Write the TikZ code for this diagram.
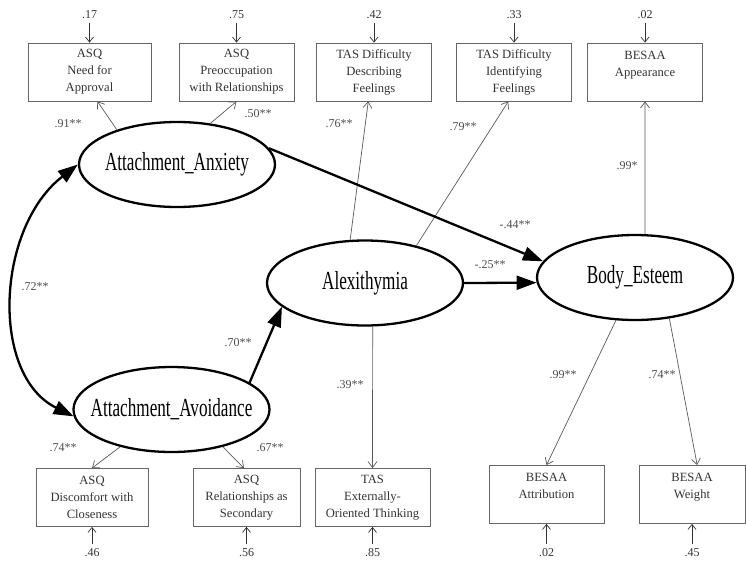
\documentclass[tikz,border=0pt]{standalone}
\usepackage{fontspec}
\setmainfont{Liberation Serif}
\usetikzlibrary{shapes.geometric,arrows.meta}

\newcommand\latname[1]{\makebox[0pt]{\scalebox{0.66}[1]{#1}}}

\begin{document}
\begin{tikzpicture}[x=1pt,y=-1pt,
					latent/.style={ellipse,draw,line width=2.3pt,minimum width=196pt,
					  minimum height=85pt,inner sep=0pt,font=\fontsize{26}{26}\selectfont},
					obs/.style={rectangle,draw=black!60,line width=0.8pt,minimum width=115pt,
					  minimum height=58pt,inner sep=2pt,align=center,text=black!80,
					  font=\fontsize{12.6}{17}\selectfont},
					err/.style={inner sep=1pt,text=black!80,font=\fontsize{12}{14}\selectfont},
					coef/.style={inner sep=0pt,text=black!70,font=\fontsize{12}{14}\selectfont},
					load/.style={draw=black!65,line width=0.7pt,-{Straight Barb[length=6pt,width=9pt]}},
					regr/.style={draw,line width=2.3pt,-{Triangle[length=20pt,width=14pt]}},
					cov/.style={draw,line width=2.3pt,{Triangle[length=20pt,width=14pt]}-{Triangle[length=20pt,width=14pt]}},
					erra/.style={draw=black!80,line width=0.7pt,-{Straight Barb[length=5pt,width=8pt]}}]

  \useasboundingbox (0,0) rectangle (746,565);

  % latent variables
  \node[latent] (anx) at (177,164.5) {\latname{Attachment\_Anxiety}};
  \node[latent] (avo) at (171.5,409.5) {\latname{Attachment\_Avoidance}};
  \node[latent] (alx) at (365,283) {\latname{Alexithymia}};
  \node[latent] (bes) at (635,277.5) {\latname{Body\_Esteem}};

  % indicators, top row
  \node[obs,minimum width=123pt] (nfa) at (89.5,72) {ASQ\\Need for\\Approval};
  \node[obs] (pre) at (236.5,72) {ASQ\\Preoccupation\\with Relationships};
  \node[obs] (tdd) at (374,72) {TAS Difficulty\\Describing\\Feelings};
  \node[obs] (tdi) at (514,72) {TAS Difficulty\\Identifying\\Feelings};
  \node[obs] (app) at (645,72) {BESAA\\Appearance\\\mbox{}};

  % indicators, bottom row
  \node[obs,minimum width=112pt] (dis) at (92,497.5) {ASQ\\Discomfort with\\Closeness};
  \node[obs,minimum width=107pt] (rel) at (246.5,497.5) {ASQ\\Relationships as\\Secondary};
  \node[obs] (tex) at (372.5,497.5) {TAS\\Externally-\\Oriented Thinking};
  \node[obs] (att) at (546.5,494.5) {BESAA\\Attribution\\\mbox{}};
  \node[obs,minimum width=106pt] (wei) at (692,494.5) {BESAA\\Weight\\\mbox{}};

  % error terms
  \node[err] (enfa) at (89.5,15) {.17};
  \node[err] (epre) at (236.5,15) {.75};
  \node[err] (etdd) at (374,15) {.42};
  \node[err] (etdi) at (514,15) {.33};
  \node[err] (eapp) at (645,15) {.02};
  \node[err] (edis) at (92,553) {.46};
  \node[err] (erel) at (246.5,553) {.56};
  \node[err] (etex) at (372.5,553) {.85};
  \node[err] (eatt) at (546.5,553) {.02};
  \node[err] (ewei) at (692,553) {.45};

  % coefficients
  \node[coef] (c91) at (68,124) {.91**};
  \node[coef] (c50) at (258,114) {.50**};
  \node[coef] (c76) at (339,124) {.76**};
  \node[coef] (c79) at (463,127) {.79**};
  \node[coef] (c99a) at (627,166) {.99*};
  \node[coef] (c44n) at (515,225) {-.44**};
  \node[coef] (c25n) at (490,265) {-.25**};
  \node[coef] (c70) at (238,343) {.70**};
  \node[coef] (c72) at (35,287) {.72**};
  \node[coef] (c74a) at (63,448) {.74**};
  \node[coef] (c67) at (270,448) {.67**};
  \node[coef] (c39) at (350,385) {.39**};
  \node[coef] (c99b) at (563,375) {.99**};
  \node[coef] (c74b) at (662,375) {.74**};

  \path (anx.150) edge[load] (nfa.-75)
        (anx.51)  edge[load] (pre.south)
        (alx.109) edge[load] (tdd.-101)
        (alx.36)  edge[load] (tdi.-101)
        (bes.77)  edge[load] (app.south)
        (avo.216) edge[load] (dis.north)
        (avo.-36) edge[load] (rel.95)
        (alx.-80) edge[load] (tex.north)
        (bes.246) edge[load] (att.north)
        (bes.-50) edge[load] (wei.80);

  \path (anx.10)  edge[regr] (bes.170)
        (alx.east) edge[regr] (bes.183)
        (avo.19)  edge[regr] (alx.196);

  \path[cov] (anx.west) .. controls (-4,228) and (-10,375) .. (avo.184);

  \foreach \e/\b in {enfa/nfa,epre/pre,etdd/tdd,etdi/tdi,eapp/app}
    \path (\e) edge[erra,shorten <=3pt] (\b);
  \foreach \e/\b in {edis/dis,erel/rel,etex/tex,eatt/att,ewei/wei}
    \path (\e) edge[erra,shorten <=4pt] (\b);
\end{tikzpicture}
\end{document}
